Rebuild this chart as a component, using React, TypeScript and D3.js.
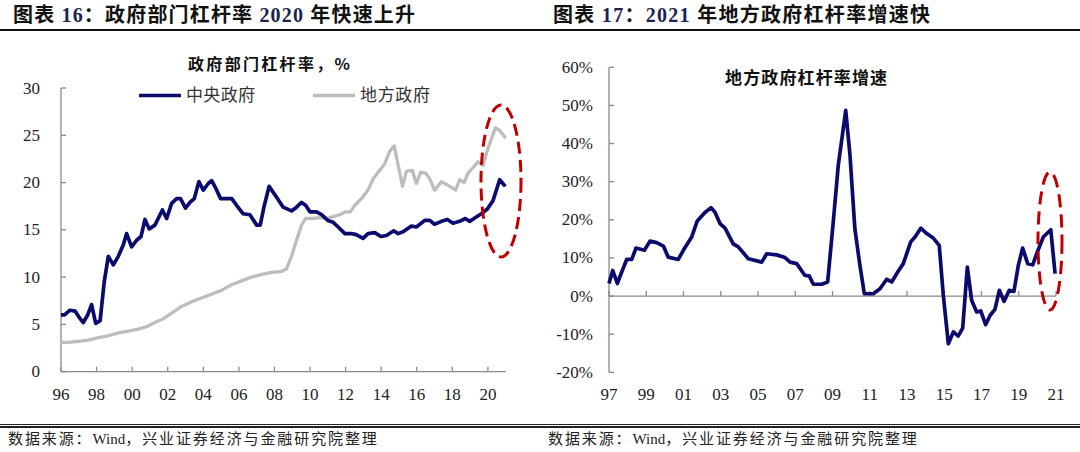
import React from "react";
import * as d3 from "d3";

// ---------------- Data ----------------
// Left chart: government leverage ratio (%), [decimal year, value]
const centralGov: [number, number][] = [
  [1996.0, 6.0], [1996.2, 6.0], [1996.5, 6.5], [1996.8, 6.4], [1997.0, 5.8], [1997.25, 5.2], [1997.5, 6.0],
  [1997.72, 7.1], [1997.95, 5.1], [1998.2, 5.4], [1998.43, 9.5], [1998.66, 12.2], [1998.94, 11.3],
  [1999.22, 12.2], [1999.5, 13.4], [1999.69, 14.6], [1999.97, 13.2], [2000.25, 13.9], [2000.5, 14.3],
  [2000.72, 16.1], [2000.96, 15.1], [2001.28, 15.5], [2001.7, 17.1], [2001.94, 16.2], [2002.22, 17.8],
  [2002.5, 18.3], [2002.72, 18.3], [2003.0, 17.3], [2003.25, 17.9], [2003.49, 18.3], [2003.75, 20.1],
  [2004.0, 19.2], [2004.28, 19.9], [2004.47, 20.2], [2004.7, 19.4], [2004.97, 18.3], [2005.3, 18.3],
  [2005.6, 18.3], [2005.87, 17.6], [2006.24, 16.7], [2006.62, 16.6], [2007.0, 15.5], [2007.2, 15.5],
  [2007.42, 17.5], [2007.7, 19.6], [2008.1, 18.5], [2008.49, 17.4], [2008.96, 17.0], [2009.24, 17.4],
  [2009.52, 17.9], [2009.75, 17.6], [2010.0, 16.9], [2010.36, 16.9], [2010.65, 16.6], [2011.0, 16.0],
  [2011.3, 15.8], [2011.58, 15.3], [2011.96, 14.6], [2012.33, 14.6], [2012.6, 14.5], [2012.98, 14.1],
  [2013.26, 14.6], [2013.64, 14.7], [2013.98, 14.3], [2014.3, 14.4], [2014.7, 14.9], [2014.95, 14.6],
  [2015.23, 14.8], [2015.7, 15.4], [2015.98, 15.3], [2016.45, 16.0], [2016.73, 16.0], [2017.0, 15.6],
  [2017.39, 15.9], [2017.72, 16.1], [2018.04, 15.7], [2018.41, 15.9], [2018.73, 16.2], [2018.98, 15.9],
  [2019.3, 16.3], [2019.63, 16.7], [2019.97, 17.2], [2020.29, 18.1], [2020.66, 20.3], [2020.98, 19.6],
];

const localGov: [number, number][] = [
  [1996.0, 3.1], [1996.4, 3.1], [1996.97, 3.2], [1997.53, 3.35], [1998.1, 3.6], [1998.66, 3.8],
  [1999.22, 4.1], [1999.78, 4.3], [2000.34, 4.5], [2000.81, 4.75], [2001.28, 5.2], [2001.75, 5.6],
  [2002.22, 6.2], [2002.78, 6.9], [2003.34, 7.4], [2003.9, 7.8], [2004.47, 8.2], [2005.03, 8.6],
  [2005.59, 9.2], [2006.15, 9.6], [2006.71, 10.0], [2007.28, 10.3], [2007.84, 10.5], [2008.4, 10.6],
  [2008.68, 10.9], [2008.96, 12.2], [2009.24, 13.9], [2009.52, 15.5], [2009.75, 16.2], [2010.17, 16.2],
  [2010.55, 16.3], [2010.93, 16.2], [2011.3, 16.4], [2011.67, 16.6], [2011.99, 16.9], [2012.27, 16.9],
  [2012.52, 17.6], [2012.89, 18.3], [2013.26, 19.2], [2013.55, 20.4], [2013.83, 21.1], [2014.2, 22.0],
  [2014.48, 23.3], [2014.73, 23.9], [2014.95, 21.9], [2015.2, 19.6], [2015.42, 21.2], [2015.74, 21.3],
  [2015.98, 19.9], [2016.22, 21.1], [2016.49, 21.0], [2016.73, 20.4], [2017.0, 19.2], [2017.39, 20.1],
  [2017.76, 19.7], [2018.19, 19.2], [2018.41, 20.3], [2018.66, 20.0], [2018.88, 21.0], [2019.22, 21.7],
  [2019.44, 22.2], [2019.72, 21.8], [2020.0, 23.6], [2020.42, 25.8], [2020.66, 25.5], [2021.0, 24.7],
];

const leftYTicks = [0, 5, 10, 15, 20, 25, 30];
const leftXTicks = [1996, 1998, 2000, 2002, 2004, 2006, 2008, 2010, 2012, 2014, 2016, 2018, 2020];

// Right chart: local government leverage growth (%), [decimal year, value]
const localGrowth: [number, number][] = [
  [1997.0, 3.3], [1997.2, 6.7], [1997.45, 3.3], [1997.68, 6.3], [1997.95, 9.6], [1998.22, 9.6],
  [1998.45, 12.6], [1998.9, 12.0], [1999.2, 14.4], [1999.56, 14.0], [1999.92, 13.1], [2000.18, 10.2],
  [2000.72, 9.6], [2000.99, 12.0], [2001.44, 15.5], [2001.74, 19.7], [2002.15, 21.9], [2002.48, 23.2],
  [2002.69, 22.0], [2002.96, 19.0], [2003.23, 17.8], [2003.67, 13.7], [2003.94, 12.9], [2004.48, 9.8],
  [2005.2, 8.9], [2005.47, 11.1], [2006.0, 10.8], [2006.45, 10.1], [2006.72, 8.9], [2007.08, 8.5],
  [2007.52, 5.4], [2007.75, 5.3], [2007.97, 3.1], [2008.42, 3.1], [2008.74, 3.7], [2009.04, 19.4],
  [2009.31, 34.3], [2009.71, 48.7], [2009.94, 36.9], [2010.2, 17.7], [2010.47, 8.1], [2010.71, 0.6],
  [2011.19, 0.6], [2011.55, 1.9], [2011.91, 4.4], [2012.18, 3.7], [2012.5, 6.3], [2012.8, 8.5],
  [2013.2, 14.2], [2013.43, 15.5], [2013.74, 17.8], [2014.06, 16.4], [2014.41, 15.2], [2014.73, 13.3],
  [2014.95, 0.2], [2015.22, -12.5], [2015.49, -9.4], [2015.75, -10.5], [2015.99, -8.4], [2016.24, 7.6],
  [2016.47, -1.1], [2016.74, -4.2], [2016.96, -3.9], [2017.22, -7.5], [2017.46, -5.1], [2017.72, -3.5],
  [2017.96, 1.5], [2018.21, -1.4], [2018.49, 1.5], [2018.74, 1.2], [2018.98, 8.1], [2019.21, 12.6],
  [2019.48, 8.5], [2019.75, 8.2], [2020.0, 11.6], [2020.32, 15.5], [2020.72, 17.4], [2020.95, 5.9],
];

const rightYTicks = [-20, -10, 0, 10, 20, 30, 40, 50, 60];
const rightXTicks = [1997, 1999, 2001, 2003, 2005, 2007, 2009, 2011, 2013, 2015, 2017, 2019, 2021];

const yearLabel = (y: number) => String(y % 100).padStart(2, "0");

// ---------------- Styles ----------------
const FONT = "'Liberation Serif', 'Times New Roman', 'Noto Sans CJK SC', serif";
const CJK_BOLD = "'Noto Sans CJK SC', sans-serif";
const NAVY = "#0b0b6e";
const GRAY = "#bdbdbd";
const AXIS = "#8a8a8a";
const RED = "#c00000";

function Footer({ x }: { x: number }) {
  return (
    <text x={x} y={439} dominantBaseline="central" fontFamily={FONT} fontSize={15} fill="#222"
      letterSpacing={1.9}>
      数据来源：<tspan letterSpacing={0}>Wind</tspan>，兴业证券经济与金融研究院整理
    </text>
  );
}

export default function App() {
  // left scales
  const lx = d3.scaleLinear().domain([1996, 2021]).range([61, 505.7]);
  const ly = d3.scaleLinear().domain([0, 30]).range([371.7, 88]);
  const lLine = d3
    .line<[number, number]>()
    .x((d) => lx(d[0]))
    .y((d) => ly(d[1]));

  // right scales
  const rx = d3.scaleLinear().domain([1997, 2021]).range([609, 1056]);
  const ry = d3.scaleLinear().domain([-20, 60]).range([372.3, 67.3]);
  const rLine = d3
    .line<[number, number]>()
    .x((d) => rx(d[0]))
    .y((d) => ry(d[1]));

  return (
    <svg
      width={1080}
      height={452}
      viewBox="0 0 1080 452"
      style={{ position: "absolute", left: 0, top: 0, background: "#fff" }}
    >
      <rect x={0} y={0} width={1080} height={452} fill="#fff" />

      {/* Headers */}
      <text x={13} y={22} fontFamily={FONT} fontSize={20} fontWeight={700} fill="#111"
        textLength={402} lengthAdjust="spacing">
        图表 <tspan fill="#1c2350">16</tspan>：政府部门杠杆率 <tspan fill="#1c2350">2020</tspan> 年快速上升
      </text>
      <text x={553} y={22} fontFamily={FONT} fontSize={20} fontWeight={700} fill="#111"
        textLength={377} lengthAdjust="spacing">
        图表 <tspan fill="#1c2350">17</tspan>：<tspan fill="#1c2350">2021</tspan> 年地方政府杠杆率增速快
      </text>
      <line x1={0} x2={1080} y1={30} y2={30} stroke="#111" strokeWidth={2} />

      {/* Footer */}
      <line x1={0} x2={1080} y1={424.5} y2={424.5} stroke="#222" strokeWidth={1} />
      <line x1={0} x2={1080} y1={427} y2={427} stroke="#222" strokeWidth={2} />
      <Footer x={8} />
      <Footer x={548} />

      {/* ---------------- Left chart ---------------- */}
      <text x={269} y={63} textAnchor="middle" dominantBaseline="central" fontFamily={CJK_BOLD}
        fontSize={16} fontWeight={700} fill="#111" textLength={162} lengthAdjust="spacing">
        政府部门杠杆率，%
      </text>

      {/* axes */}
      <line x1={lx(1996)} x2={lx(1996)} y1={ly(30)} y2={ly(0)} stroke={AXIS} strokeWidth={1.3} />
      <line x1={lx(1996)} x2={lx(2021)} y1={ly(0)} y2={ly(0)} stroke={AXIS} strokeWidth={1.3} />
      {leftYTicks.map((t) => (
        <g key={"ly" + t}>
          <line x1={lx(1996)} x2={lx(1996) + 5} y1={ly(t)} y2={ly(t)} stroke={AXIS} strokeWidth={1.3} />
          <text x={40} y={ly(t)} textAnchor="end" dominantBaseline="central" fontFamily={FONT}
            fontSize={17} fill="#222">
            {t}
          </text>
        </g>
      ))}
      {leftXTicks.map((t) => (
        <g key={"lx" + t}>
          <line x1={lx(t)} x2={lx(t)} y1={ly(0)} y2={ly(0) - 5} stroke={AXIS} strokeWidth={1.3} />
          <text x={lx(t)} y={394} textAnchor="middle" dominantBaseline="central" fontFamily={FONT}
            fontSize={17} fill="#222">
            {yearLabel(t)}
          </text>
        </g>
      ))}

      {/* lines */}
      <path d={lLine(localGov) || ""} fill="none" stroke={GRAY} strokeWidth={3.3} strokeLinejoin="round" />
      <path d={lLine(centralGov) || ""} fill="none" stroke={NAVY} strokeWidth={3.7} strokeLinejoin="round" />

      {/* legend */}
      <line x1={139} x2={181} y1={95.5} y2={95.5} stroke={NAVY} strokeWidth={3.7} />
      <text x={186} y={95.5} dominantBaseline="central" fontFamily={FONT} fontSize={17} fill="#333"
        textLength={69} lengthAdjust="spacing">
        中央政府
      </text>
      <line x1={313} x2={355} y1={95.5} y2={95.5} stroke={GRAY} strokeWidth={3.3} />
      <text x={360} y={95.5} dominantBaseline="central" fontFamily={FONT} fontSize={17} fill="#333"
        textLength={70} lengthAdjust="spacing">
        地方政府
      </text>

      {/* highlight ellipse */}
      <ellipse cx={501} cy={181} rx={20} ry={76} fill="none" stroke={RED} strokeWidth={3}
        strokeDasharray="12 6" />

      {/* ---------------- Right chart ---------------- */}
      <text x={806} y={76} textAnchor="middle" dominantBaseline="central" fontFamily={CJK_BOLD}
        fontSize={17} fontWeight={700} fill="#111" textLength={162} lengthAdjust="spacing">
        地方政府杠杆率增速
      </text>

      <line x1={rx(1997)} x2={rx(1997)} y1={ry(60)} y2={ry(-20)} stroke={AXIS} strokeWidth={1.3} />
      <line x1={rx(1997)} x2={rx(2021)} y1={ry(0)} y2={ry(0)} stroke={AXIS} strokeWidth={1.3} />
      {rightYTicks.map((t) => (
        <g key={"ry" + t}>
          <line x1={rx(1997)} x2={rx(1997) + 5} y1={ry(t)} y2={ry(t)} stroke={AXIS} strokeWidth={1.3} />
          <text x={593} y={ry(t)} textAnchor="end" dominantBaseline="central" fontFamily={FONT}
            fontSize={17} fill="#222">
            {t}%
          </text>
        </g>
      ))}
      {rightXTicks.map((t) => (
        <g key={"rx" + t}>
          <line x1={rx(t)} x2={rx(t)} y1={ry(0)} y2={ry(0) - 5} stroke={AXIS} strokeWidth={1.3} />
          <text x={rx(t)} y={394} textAnchor="middle" dominantBaseline="central" fontFamily={FONT}
            fontSize={17} fill="#222">
            {yearLabel(t)}
          </text>
        </g>
      ))}

      <path d={rLine(localGrowth) || ""} fill="none" stroke={NAVY} strokeWidth={3.7} strokeLinejoin="round" />

      <ellipse cx={1050} cy={241} rx={12} ry={69} fill="none" stroke={RED} strokeWidth={3}
        strokeDasharray="13 7" />
    </svg>
  );
}
